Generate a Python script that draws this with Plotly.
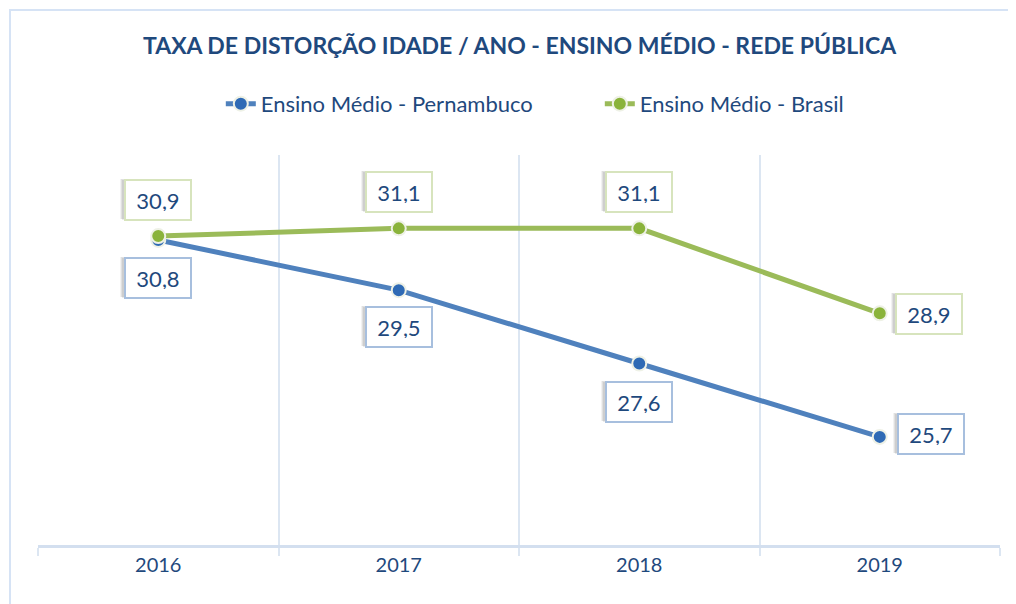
import plotly.graph_objects as go

years = ["2016", "2017", "2018", "2019"]
pe_values = [30.8, 29.5, 27.6, 25.7]
br_values = [30.9, 31.1, 31.1, 28.9]
pe_name = "Ensino Médio - Pernambuco"
br_name = "Ensino Médio - Brasil"
title_text = "TAXA DE DISTORÇÃO IDADE / ANO - ENSINO MÉDIO - REDE PÚBLICA"

def fmt(v):
    return f"{v:.1f}".replace(".", ",")

TEXT = "#1F497D"
FONT = "Lato"
BLUE = "#4F81BD"
BLUE_M = "#2F6AB5"
GREEN = "#9BBB59"
GREEN_M = "#8AB33B"
GRID = "#DCE6F2"

fig = go.Figure()
fig.add_trace(go.Scatter(
    x=years, y=pe_values, name=pe_name, mode="lines+markers",
    line=dict(color=BLUE, width=5),
    marker=dict(color=BLUE_M, size=14, line=dict(color="#EEF1E6", width=2)),
))
fig.add_trace(go.Scatter(
    x=years, y=br_values, name=br_name, mode="lines+markers",
    line=dict(color=GREEN, width=5),
    marker=dict(color=GREEN_M, size=14, line=dict(color="#EEF1E6", width=2)),
))

# label offsets (pixels): PE below except last (right), BR above except last (right)
pe_shift = [(0, -38), (0, -37), (0, -38), (51, 3)]
br_shift = [(0, 36), (0, 36), (0, 36), (49, -1)]

def add_label(i, y, shift, border):
    xs, ys = shift
    for dx, dy, a in [(-5, 1, 0.05), (-4, 1, 0.07), (-3, 0, 0.08)]:
        fig.add_annotation(
            x=i, y=y, xref="x", yref="y", text=" ", showarrow=False,
            xshift=xs + dx, yshift=ys + dy,
            font=dict(family=FONT, size=22, color="rgba(0,0,0,0)"),
            bgcolor=f"rgba(0,0,0,{a})", bordercolor="rgba(0,0,0,0)",
            borderwidth=2, borderpad=8, width=48, height=22,
        )
    fig.add_annotation(
        x=i, y=y, xref="x", yref="y", text=fmt(y), showarrow=False,
        xshift=xs, yshift=ys,
        font=dict(family=FONT, size=22, color=TEXT),
        bgcolor="white", bordercolor=border, borderwidth=2, borderpad=8,
        width=48, height=22,
    )

for i, (y, s) in enumerate(zip(pe_values, pe_shift)):
    add_label(i, y, s, "#A7BFDE")
for i, (y, s) in enumerate(zip(br_values, br_shift)):
    add_label(i, y, s, "#D7E4BD")

# outer chart border
fig.add_shape(type="rect", xref="paper", yref="paper",
              x0=-0.0291, x1=1.1, y0=1.3718, y1=-0.4,
              line=dict(color="#D6E3F5", width=2), fillcolor="rgba(0,0,0,0)",
              layer="below")

fig.update_layout(
    width=1008, height=596,
    margin=dict(l=30, r=16, t=147, b=59),
    paper_bgcolor="white", plot_bgcolor="white",
    title=dict(text=f"<b>{title_text}</b>", x=0.5075, xanchor="center",
               y=0.936, yanchor="middle", yref="container",
               font=dict(family=FONT, size=23, color=TEXT)),
    legend=dict(orientation="h", x=0.584, xanchor="center", y=1.131,
                yanchor="middle", font=dict(family=FONT, size=22, color=TEXT),
                entrywidth=334, entrywidthmode="pixels"),
    xaxis=dict(type="category", tickson="boundaries", showgrid=True,
               gridcolor=GRID, gridwidth=1.5, ticks="outside", ticklen=8,
               tickcolor=GRID, tickwidth=1.5, showline=True,
               linecolor="#D3DFEF", linewidth=3,
               tickfont=dict(family=FONT, size=20, color=TEXT),
               range=[-0.5, 3.5], fixedrange=True),
    yaxis=dict(range=[22.9, 33.0], showgrid=False, zeroline=False,
               showticklabels=False, showline=False, fixedrange=True),
    showlegend=True,
)

fig.write_html("out.html")
